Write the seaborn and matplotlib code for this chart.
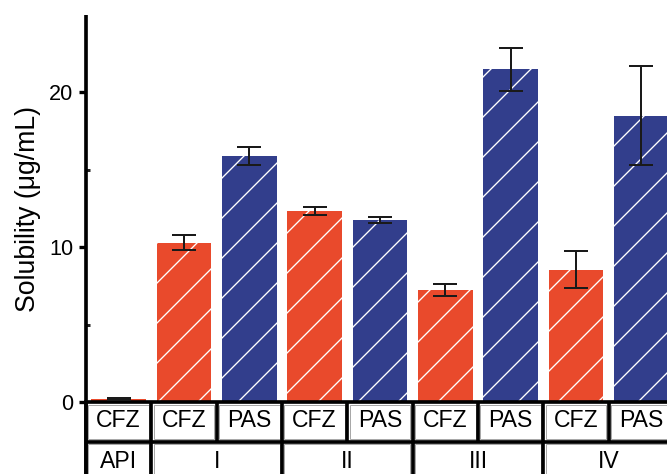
import matplotlib
matplotlib.use("Agg")
import matplotlib.pyplot as plt
import matplotlib.transforms as mtransforms
from matplotlib.patches import Rectangle
import seaborn as sns
import pandas as pd
import numpy as np

# ---- data ----
groups = ["API", "I", "I", "II", "II", "III", "III", "IV", "IV"]
drugs = ["CFZ", "CFZ", "PAS", "CFZ", "PAS", "CFZ", "PAS", "CFZ", "PAS"]
solubility = [0.2, 10.3, 15.9, 12.35, 11.75, 7.25, 21.5, 8.55, 18.5]
errors = [0.05, 0.5, 0.6, 0.25, 0.2, 0.4, 1.4, 1.2, 3.2]
group_labels = ["API", "I", "II", "III", "IV"]
group_spans = [(0, 0), (1, 2), (3, 4), (5, 6), (7, 8)]
y_ticks = [0, 10, 20]
y_minor = [5, 15]
ylabel = "Solubility (μg/mL)"

RED = "#E94A2C"
BLUE = "#323E8C"

DPI = 120
sns.set_theme(style="white")
plt.rcParams["font.family"] = ["Liberation Sans", "DejaVu Sans"]
plt.rcParams["hatch.color"] = "white"
plt.rcParams["hatch.linewidth"] = 0.8

fig = plt.figure(figsize=(667 / DPI, 474 / DPI), dpi=DPI, facecolor="white")
ax = fig.add_axes([86 / 667, 1 - 402 / 474, 588 / 667, 387 / 474])

keys = [f"{g}-{d}-{i}" for i, (g, d) in enumerate(zip(groups, drugs))]
df = pd.DataFrame({"key": keys, "drug": drugs, "sol": solubility})
sns.barplot(data=df, x="key", y="sol", hue="drug", order=keys,
            palette={"CFZ": RED, "PAS": BLUE}, dodge=False, width=0.84,
            errorbar=None, legend=False, ax=ax, saturation=1)

for p in ax.patches:
    c = p.get_x() + p.get_width() / 2
    idx = int(round(c))
    face = RED if drugs[idx] == "CFZ" else BLUE
    p.set_facecolor(face)
    p.set_edgecolor("white")
    p.set_linewidth(0)
    p.set_hatch("/")

xs = np.arange(len(keys))
ax.errorbar(xs, solubility, yerr=errors, fmt="none", ecolor="#1a1a1a",
            elinewidth=1.2, capsize=7, capthick=1.2, zorder=5)

ax.set_xlim(-0.5, 8.5)
ax.set_ylim(0, 25)
ax.set_xticks([])
ax.set_xlabel("")
ax.set_yticks(y_ticks)
ax.set_yticks(y_minor, minor=True)
ax.tick_params(axis="y", which="major", direction="out", length=4.5, width=2.0,
               labelsize=13, pad=3, left=True, colors="black")
ax.tick_params(axis="y", which="minor", direction="in", length=2.5, width=1.8,
               left=True)
ax.set_ylabel(ylabel, fontsize=16, labelpad=5, color="black")
for s in ["top", "right"]:
    ax.spines[s].set_visible(False)
for s in ["left", "bottom"]:
    ax.spines[s].set_linewidth(2.2)
    ax.spines[s].set_color("black")
ax.spines["left"].set_capstyle("butt")

# ---- category table below axis ----
trans = mtransforms.blended_transform_factory(ax.transData, ax.transAxes)
row1_top, row1_bot = 0.0, -38 / 387
row2_top, row2_bot = -41 / 387, -0.25
sep_y = (row1_bot + row2_top) / 2
inset_x, inset_y = 0.035, 2.5 / 387
SEP_LW = 2.2

def vline(x, y0, y1, lw=SEP_LW):
    ax.plot([x, x], [y0, y1], transform=trans, color="black", lw=lw,
            clip_on=False, solid_capstyle="butt", zorder=6)

# thin gray cell borders
for i in range(len(keys)):
    ax.add_patch(Rectangle((i - 0.5 + inset_x, row1_bot + inset_y * 0.5),
                           1 - 2 * inset_x, (row1_top - row1_bot) - 1.5 * inset_y,
                           transform=trans, fill=False, edgecolor="#a8a8a8",
                           lw=0.6, clip_on=False, zorder=5))
for (a, b) in group_spans:
    ax.add_patch(Rectangle((a - 0.5 + inset_x, row2_bot),
                           (b - a + 1) - 2 * inset_x, (row2_top - row2_bot) - inset_y * 0.5,
                           transform=trans, fill=False, edgecolor="#a8a8a8",
                           lw=0.6, clip_on=False, zorder=5))

for i in range(len(keys) + 1):
    vline(i - 0.5, row1_top, sep_y)
ax.plot([-0.5, 8.5], [sep_y] * 2, transform=trans,
        color="black", lw=SEP_LW, clip_on=False, solid_capstyle="butt", zorder=6)
for (a, b) in group_spans:
    vline(a - 0.5, sep_y, row2_bot)
vline(8.5, sep_y, row2_bot)
vline(-0.5, 0.0, row2_bot, lw=2.2)

for i, d in enumerate(drugs):
    ax.text(i, -18.5 / 387, d, transform=trans, ha="center",
            va="center", fontsize=13.8, color="black", clip_on=False)
for lab, (a, b) in zip(group_labels, group_spans):
    ax.text((a + b) / 2, -59 / 387, lab, transform=trans, ha="center",
            va="center", fontsize=13.8, color="black", clip_on=False)

fig.savefig("out.png", dpi=DPI, facecolor="white")
